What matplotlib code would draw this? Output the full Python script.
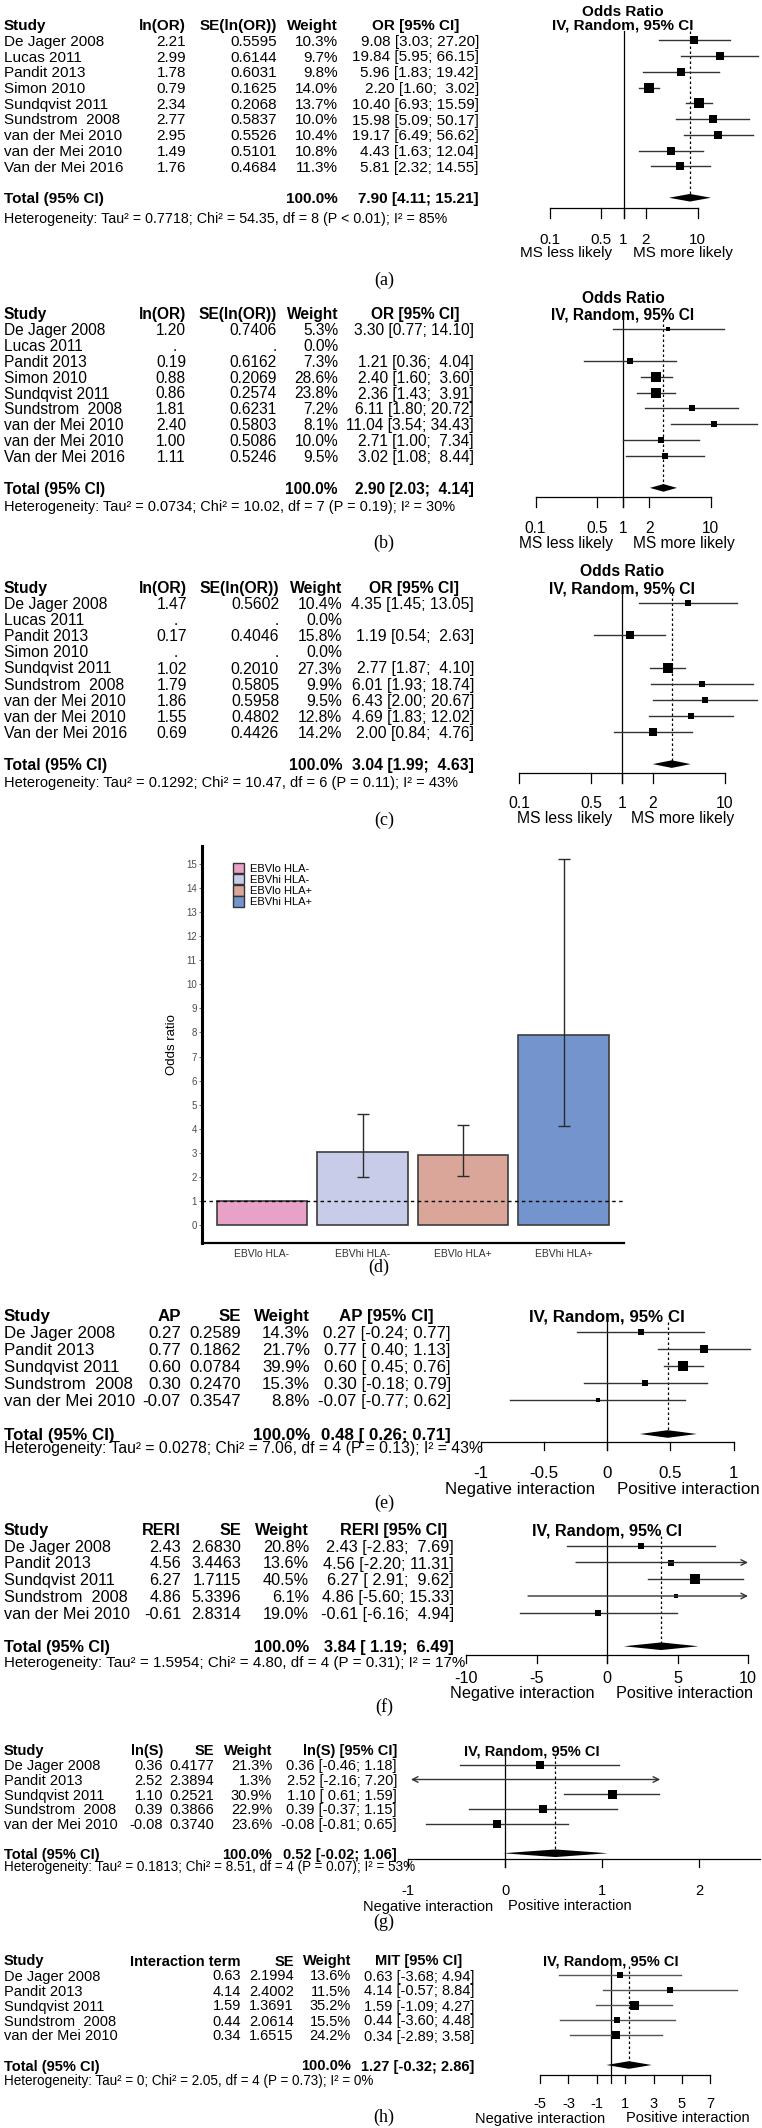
import numpy as np
import matplotlib
matplotlib.use("Agg")
import matplotlib.pyplot as plt
from matplotlib.transforms import blended_transform_factory
from matplotlib.patches import Patch

plt.rcParams['font.family'] = ['Liberation Sans', 'DejaVu Sans']

W, H = 762, 2128
nan = float('nan')

# ---------- (a)-(c) odds ratios ----------
studies_or = ["De Jager 2008", "Lucas 2011", "Pandit 2013", "Simon 2010", "Sundqvist 2011",
              "Sundstrom  2008", "van der Mei 2010", "van der Mei 2010", "Van der Mei 2016"]

lnor_a = [2.21, 2.99, 1.78, 0.79, 2.34, 2.77, 2.95, 1.49, 1.76]
se_a = [0.5595, 0.6144, 0.6031, 0.1625, 0.2068, 0.5837, 0.5526, 0.5101, 0.4684]
w_a = [10.3, 9.7, 9.8, 14.0, 13.7, 10.0, 10.4, 10.8, 11.3]
or_a = [9.08, 19.84, 5.96, 2.20, 10.40, 15.98, 19.17, 4.43, 5.81]
lo_a = [3.03, 5.95, 1.83, 1.60, 6.93, 5.09, 6.49, 1.63, 2.32]
hi_a = [27.20, 66.15, 19.42, 3.02, 15.59, 50.17, 56.62, 12.04, 14.55]
total_a = [7.90, 4.11, 15.21]
het_a = "Heterogeneity: Tau² = 0.7718; Chi² = 54.35, df = 8 (P < 0.01); I² = 85%"

lnor_b = [1.20, nan, 0.19, 0.88, 0.86, 1.81, 2.40, 1.00, 1.11]
se_b = [0.7406, nan, 0.6162, 0.2069, 0.2574, 0.6231, 0.5803, 0.5086, 0.5246]
w_b = [5.3, 0.0, 7.3, 28.6, 23.8, 7.2, 8.1, 10.0, 9.5]
or_b = [3.30, nan, 1.21, 2.40, 2.36, 6.11, 11.04, 2.71, 3.02]
lo_b = [0.77, nan, 0.36, 1.60, 1.43, 1.80, 3.54, 1.00, 1.08]
hi_b = [14.10, nan, 4.04, 3.60, 3.91, 20.72, 34.43, 7.34, 8.44]
total_b = [2.90, 2.03, 4.14]
het_b = "Heterogeneity: Tau² = 0.0734; Chi² = 10.02, df = 7 (P = 0.19); I² = 30%"

lnor_c = [1.47, nan, 0.17, nan, 1.02, 1.79, 1.86, 1.55, 0.69]
se_c = [0.5602, nan, 0.4046, nan, 0.2010, 0.5805, 0.5958, 0.4802, 0.4426]
w_c = [10.4, 0.0, 15.8, 0.0, 27.3, 9.9, 9.5, 12.8, 14.2]
or_c = [4.35, nan, 1.19, nan, 2.77, 6.01, 6.43, 4.69, 2.00]
lo_c = [1.45, nan, 0.54, nan, 1.87, 1.93, 2.00, 1.83, 0.84]
hi_c = [13.05, nan, 2.63, nan, 4.10, 18.74, 20.67, 12.02, 4.76]
total_c = [3.04, 1.99, 4.63]
het_c = "Heterogeneity: Tau² = 0.1292; Chi² = 10.47, df = 6 (P = 0.11); I² = 43%"

heads_or = ["ln(OR)", "SE(ln(OR))", "Weight", "OR [95% CI]"]
or_ticks = [0.1, 0.5, 1, 2, 10]
or_ticklabels = ["0.1", "0.5", "1", "2", "10"]

# ---------- (d) bar chart ----------
groups_d = ["EBVlo HLA-", "EBVhi HLA-", "EBVlo HLA+", "EBVhi HLA+"]
or_d = [1.0, 3.04, 2.90, 7.90]
lo_d = [nan, 1.99, 2.03, 4.11]
hi_d = [nan, 4.63, 4.14, 15.21]
colors_d = ["#E9A2C7", "#C9CCE8", "#D9A699", "#7394CC"]

# ---------- (e)-(h) interaction ----------
studies_int = ["De Jager 2008", "Pandit 2013", "Sundqvist 2011", "Sundstrom  2008", "van der Mei 2010"]

ap_e = [0.27, 0.77, 0.60, 0.30, -0.07]
se_e = [0.2589, 0.1862, 0.0784, 0.2470, 0.3547]
w_e = [14.3, 21.7, 39.9, 15.3, 8.8]
lo_e = [-0.24, 0.40, 0.45, -0.18, -0.77]
hi_e = [0.77, 1.13, 0.76, 0.79, 0.62]
total_e = [0.48, 0.26, 0.71]
het_e = "Heterogeneity: Tau² = 0.0278; Chi² = 7.06, df = 4 (P = 0.13); I² = 43%"

reri_f = [2.43, 4.56, 6.27, 4.86, -0.61]
se_f = [2.6830, 3.4463, 1.7115, 5.3396, 2.8314]
w_f = [20.8, 13.6, 40.5, 6.1, 19.0]
lo_f = [-2.83, -2.20, 2.91, -5.60, -6.16]
hi_f = [7.69, 11.31, 9.62, 15.33, 4.94]
total_f = [3.84, 1.19, 6.49]
het_f = "Heterogeneity: Tau² = 1.5954; Chi² = 4.80, df = 4 (P = 0.31); I² = 17%"

lns_g = [0.36, 2.52, 1.10, 0.39, -0.08]
se_g = [0.4177, 2.3894, 0.2521, 0.3866, 0.3740]
w_g = [21.3, 1.3, 30.9, 22.9, 23.6]
lo_g = [-0.46, -2.16, 0.61, -0.37, -0.81]
hi_g = [1.18, 7.20, 1.59, 1.15, 0.65]
total_g = [0.52, -0.02, 1.06]
het_g = "Heterogeneity: Tau² = 0.1813; Chi² = 8.51, df = 4 (P = 0.07); I² = 53%"

mit_h = [0.63, 4.14, 1.59, 0.44, 0.34]
se_h = [2.1994, 2.4002, 1.3691, 2.0614, 1.6515]
w_h = [13.6, 11.5, 35.2, 15.5, 24.2]
lo_h = [-3.68, -0.57, -1.09, -3.60, -2.89]
hi_h = [4.94, 8.84, 4.27, 4.48, 3.58]
total_h = [1.27, -0.32, 2.86]
het_h = "Heterogeneity: Tau² = 0; Chi² = 2.05, df = 4 (P = 0.73); I² = 0%"

fig = plt.figure(figsize=(W / 100, H / 100), dpi=100)


def ci_strings(est, lo, hi):
    # pad like R's formatC so the brackets line up
    f = lambda v: "" if np.isnan(v) else "%.2f" % v
    los = [f(v) for v in lo]
    his = [f(v) for v in hi]
    wl = max(len(s) for s in los)
    wh = max(len(s) for s in his)
    out = []
    for e, l, h in zip(est, los, his):
        if l == "":
            out.append("")
        else:
            out.append("%.2f [%s; %s]" % (e, l.rjust(wl), h.rjust(wh)))
    return out


def forest(studies, est, se, w, eff, lo, hi, total, het, heads, lay):
    y0, rh = lay['y_head'], lay['row_h']
    row = lambda py: (py - y0) / rh
    top = lay.get('y_title', y0) - 14
    bot = lay['y_dir'] + 10
    ax = fig.add_axes([0, 1 - bot / H, 1, (bot - top) / H])
    ax.set_ylim(row(bot), row(top))
    ref, ppu = lay['ref'], lay['ppu']
    if lay['log']:
        ax.set_xscale('log')
        ax.set_xlim(10 ** (-ref / ppu), 10 ** ((W - ref) / ppu))
        x0 = 1
    else:
        ax.set_xlim(-ref / ppu, (W - ref) / ppu)
        x0 = 0
    ax.axis('off')
    tr = blended_transform_factory(fig.transFigure, ax.transData)
    fs = lay['fs']

    def txt(xp, r, s, ha='right', bold=False, size=None):
        ax.text(xp / W, r, s, transform=tr, ha=ha, va='center_baseline',
                fontsize=size or fs, fontweight='bold' if bold else 'normal')

    cols, hcols = lay['cols'], lay['hcols']
    # headers
    txt(4, 0, "Study", ha='left', bold=True)
    for xp, h in zip(hcols, heads):
        txt(xp, 0, h, bold=True)
    if 'y_title' in lay:
        txt(lay['iv_x'], row(lay['y_title']), "Odds Ratio", ha='center', bold=True)
    txt(lay['iv_x'], 0, "IV, Random, 95% CI", ha='center', bold=True)

    cis = ci_strings(list(eff) + [total[0]], list(lo) + [total[1]], list(hi) + [total[2]])
    for i, name in enumerate(studies):
        r = i + 1
        txt(4, r, name, ha='left')
        txt(cols[0], r, ".  " if np.isnan(est[i]) else "%.2f" % est[i])
        txt(cols[1], r, "." if np.isnan(se[i]) else "%.4f" % se[i])
        txt(cols[2], r, "%.1f%%" % w[i])
        txt(cols[3], r, cis[i])
    rt = len(studies) + 2
    txt(4, rt, "Total (95% CI)", ha='left', bold=True)
    txt(cols[2], rt, "100.0%", bold=True)
    txt(cols[3], rt, cis[-1], bold=True)
    txt(4, row(lay['y_het']), het, ha='left', size=fs * 0.93)

    # plot part
    lc = lay.get('lc', '#333333')
    ra = row(lay['y_axis'])
    tk = lay['tick'] / rh
    ax.plot([x0, x0], [0.4, ra + tk], color='black', lw=0.9, clip_on=False)
    ax.plot([total[0], total[0]], [0.4, rt], color='black', lw=0.9,
            ls=(0, (2, 2)), clip_on=False)
    clo, chi = lay.get('clip', (-1e9, 1e9))
    wmax = max(w)
    for i in range(len(studies)):
        if np.isnan(eff[i]):
            continue
        r = i + 1
        l, h = lo[i], hi[i]
        if l < clo or h > chi:
            style = '<->' if (l < clo and h > chi) else '->'
            ax.annotate('', xy=(min(h, chi), r), xytext=(max(l, clo), r),
                        arrowprops=dict(arrowstyle=style, color=lc, lw=1.0,
                                        shrinkA=0, shrinkB=0, mutation_scale=10),
                        annotation_clip=False)
        else:
            ax.plot([l, h], [r, r], color=lc, lw=1.0, clip_on=False)
        if clo <= eff[i] <= chi:
            side = lay['smax'] * np.sqrt(w[i] / wmax)
            ax.plot(eff[i], r, marker='s', ms=side * 0.72, color='black',
                    mec='black', mew=0, clip_on=False)
    dh = 3.8 / rh
    ax.fill([total[1], total[0], total[2], total[0]], [rt, rt - dh, rt, rt + dh],
            color='black', lw=0, clip_on=False)

    ticks = lay['ticks']
    ax.plot([lay.get('amin', ticks[0]), lay.get('amax', ticks[-1])], [ra, ra],
            color='black', lw=0.9, clip_on=False)
    for t, tl in zip(ticks, lay['ticklabels']):
        ax.plot([t, t], [ra, ra + tk], color='black', lw=0.9, clip_on=False)
        ax.text(t, row(lay['y_tl']), tl, ha='center', va='center_baseline', fontsize=fs)
    txt(lay['dl'], row(lay['y_dir']), lay['dirs'][0], ha='right')
    txt(lay['dr'], row(lay['y_dir']), lay['dirs'][1], ha='left')

    fig.text(lay.get('let_x', 384) / W, 1 - lay['y_let'] / H, lay['letter'],
             family='Liberation Serif', fontsize=13, ha='center', va='center')


ms_dirs = ["MS less likely", "MS more likely"]
int_dirs = ["Negative interaction", "Positive interaction"]

forest(studies_or, lnor_a, se_a, w_a, or_a, lo_a, hi_a, total_a, het_a, heads_or,
       dict(y_title=10, y_head=24.5, row_h=15.75, fs=11.0, log=True, ref=623.5, ppu=74,
            cols=[186, 277, 338, 479], hcols=[186, 277, 338, 459], iv_x=623,
            y_het=217, y_axis=208, tick=10, y_tl=238, y_dir=252, y_let=280,
            ticks=or_ticks, ticklabels=or_ticklabels, dl=612, dr=633, dirs=ms_dirs,
            smax=10, letter="(a)"))

forest(studies_or, lnor_b, se_b, w_b, or_b, lo_b, hi_b, total_b, het_b, heads_or,
       dict(y_title=297, y_head=313, row_h=15.9, fs=11.2, log=True, ref=623, ppu=87.5,
            cols=[186, 277, 338, 474], hcols=[186, 277, 338, 459], iv_x=623,
            y_het=505, y_axis=497, tick=10, y_tl=527, y_dir=542, y_let=543,
            ticks=or_ticks, ticklabels=or_ticklabels, dl=613, dr=633, dirs=ms_dirs,
            smax=10, letter="(b)"))

forest(studies_or, lnor_c, se_c, w_c, or_c, lo_c, hi_c, total_c, het_c, heads_or,
       dict(y_title=570, y_head=587, row_h=16.1, fs=11.3, log=True, ref=622, ppu=103,
            cols=[187, 279, 342, 474], hcols=[187, 279, 342, 459], iv_x=622,
            y_het=781, y_axis=773, tick=10, y_tl=802, y_dir=817, y_let=820,
            ticks=or_ticks, ticklabels=or_ticklabels, dl=612, dr=631, dirs=ms_dirs,
            smax=10, letter="(c)"))

forest(studies_int, ap_e, se_e, w_e, ap_e, lo_e, hi_e, total_e, het_e,
       ["AP", "SE", "Weight", "AP [95% CI]"],
       dict(y_head=1315, row_h=17, fs=12.2, log=False, ref=607, ppu=126.5,
            cols=[181, 241, 310, 451], hcols=[181, 241, 310, 434], iv_x=607,
            y_het=1447, y_axis=1442, tick=8, y_tl=1472, y_dir=1488, y_let=1503,
            ticks=[-1, -0.5, 0, 0.5, 1], ticklabels=["-1", "-0.5", "0", "0.5", "1"],
            dl=595, dr=617, dirs=int_dirs, smax=9.5, letter="(e)"))

forest(studies_int, reri_f, se_f, w_f, reri_f, lo_f, hi_f, total_f, het_f,
       ["RERI", "SE", "Weight", "RERI [95% CI]"],
       dict(y_head=1529, row_h=16.75, fs=11.7, log=False, ref=607, ppu=14.1,
            cols=[181, 241, 309, 454], hcols=[181, 241, 309, 447], iv_x=607,
            y_het=1662, y_axis=1655, tick=8, y_tl=1677, y_dir=1692, y_let=1707,
            ticks=[-10, -5, 0, 5, 10], ticklabels=["-10", "-5", "0", "5", "10"],
            dl=595, dr=616, dirs=int_dirs, smax=9.5, clip=(-10, 10), letter="(f)"))

forest(studies_int, lns_g, se_g, w_g, lns_g, lo_g, hi_g, total_g, het_g,
       ["ln(S)", "SE", "Weight", "ln(S) [95% CI]"],
       dict(y_head=1750, row_h=14.75, fs=10.5, log=False, ref=505, ppu=97,
            cols=[163, 214, 272, 397], hcols=[163, 214, 272, 397], iv_x=532,
            y_het=1866, y_axis=1859, tick=8, y_tl=1890, y_dir=1905, y_let=1922,
            ticks=[-1, 0, 1, 2], ticklabels=["-1", "0", "1", "2"], amax=2.63,
            dl=493, dr=508, dirs=int_dirs, smax=9, clip=(-0.97, 1.6), letter="(g)"))

forest(studies_int, mit_h, se_h, w_h, mit_h, lo_h, hi_h, total_h, het_h,
       ["Interaction term", "SE", "Weight", "MIT [95% CI]"],
       dict(y_head=1960, row_h=15, fs=10.5, log=False, ref=611, ppu=14.2,
            cols=[241, 294, 351, 474], hcols=[241, 294, 351, 462], iv_x=611,
            y_het=2080, y_axis=2075, tick=8, y_tl=2102, y_dir=2117, y_let=2117,
            ticks=[-5, -3, -1, 1, 3, 5, 7], ticklabels=["-5", "-3", "-1", "1", "3", "5", "7"],
            dl=605, dr=626, dirs=int_dirs, smax=9, lc='#555555', letter="(h)"))

# ---------- (d) bar chart ----------
left, right, top, bottom = 201.6, 624, 846, 1243
axd = fig.add_axes([left / W, 1 - bottom / H, (right - left) / W, (bottom - top) / H])
xs = np.arange(len(groups_d))
axd.bar(xs, or_d, width=0.9, color=colors_d, edgecolor='#3d3d3d', lw=1.2, zorder=2)
idx = [i for i in range(len(or_d)) if not np.isnan(lo_d[i])]
axd.errorbar(xs[idx], [or_d[i] for i in idx],
             yerr=[[or_d[i] - lo_d[i] for i in idx], [hi_d[i] - or_d[i] for i in idx]],
             fmt='none', ecolor='#2b2b2b', elinewidth=1, capsize=4, capthick=1, zorder=3)
axd.axhline(1, color='black', lw=1, ls=(0, (2.5, 2.5)), zorder=4)
axd.set_xlim(-0.6, 3.6)
axd.set_ylim(-0.75, 15.75)
axd.set_yticks(range(0, 16))
axd.set_xticks(xs)
axd.set_xticklabels(groups_d)
axd.tick_params(axis='y', labelsize=7, labelcolor='#4d4d4d', length=2.5, width=0.6,
                color='#555555', pad=1)
axd.tick_params(axis='x', labelsize=7.5, labelcolor='#333333', length=0, pad=4)
for s in ['top', 'right']:
    axd.spines[s].set_visible(False)
axd.spines['left'].set_linewidth(2.2)
axd.spines['bottom'].set_linewidth(1.6)
axd.set_ylabel("Odds ratio", fontsize=9.5, labelpad=6)
axd.legend(handles=[Patch(facecolor=c, edgecolor='#333333', lw=1) for c in colors_d],
           labels=groups_d, loc='upper left', bbox_to_anchor=(0.062, 0.972),
           frameon=False, borderpad=0, handlelength=1.0, handleheight=1.1,
           handletextpad=0.5, labelspacing=0.0, fontsize=8)
fig.text(379 / W, 1 - 1267 / H, "(d)", family='Liberation Serif', fontsize=13,
         ha='center', va='center')

fig.savefig("out.png", dpi=100)
